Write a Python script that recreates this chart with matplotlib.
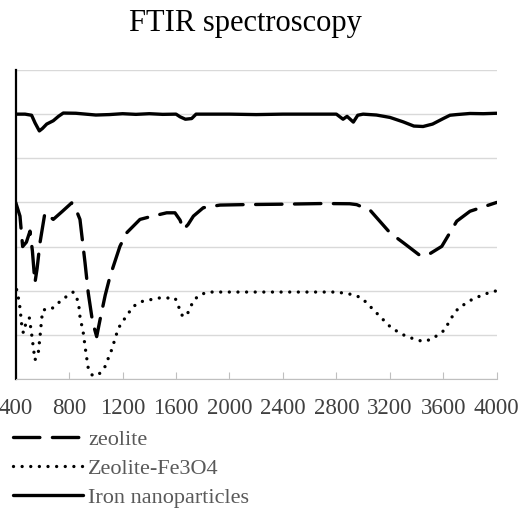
import matplotlib
matplotlib.use("Agg")
import matplotlib.pyplot as plt

plt.rcParams['lines.scale_dashes'] = False

title = "FTIR spectroscopy"
series_names = ["zeolite", "Zeolite-Fe3O4", "Iron nanoparticles"]
x_ticks = [400, 800, 1200, 1600, 2000, 2400, 2800, 3200, 3600, 4000]

zeolite_x = [400, 432, 452, 480, 507, 525, 544, 560, 582, 619, 681, 750, 819, 850, 881,
             919, 943, 975, 1006, 1031, 1070, 1106, 1180, 1230, 1330, 1405, 1530, 1592,
             1630, 1655, 1690, 1730, 1804, 1929, 2100, 2400, 2700, 2900, 2952, 3052,
             3202, 3302, 3427, 3490, 3589, 3701, 3800, 4000]
zeolite_y = [80, 73.8, 60, 62, 67, 58, 43.6, 50, 61.8, 75.4, 72.3, 76, 79.8, 77, 72.3,
             52.6, 39, 26, 19.2, 26.8, 38, 46.5, 60.1, 66.2, 72.3, 73.5, 75.3, 75.3,
             72, 67.7, 70, 73.8, 77.6, 78.8, 79, 79.2, 79.5, 79.4, 79, 76.5,
             66.2, 61.7, 55.9, 56.4, 60.1, 71.5, 76, 80]

fe3o4_x = [407, 420, 432, 445, 457, 477, 502, 520, 544, 569, 582, 595, 607, 657, 694,
           744, 831, 869, 881, 906, 926, 943, 976, 1031, 1068, 1118, 1168, 1218, 1280,
           1343, 1468, 1593, 1617, 1642, 1675, 1705, 1730, 1780, 1842, 2100, 2500,
           2803, 2927, 2990, 3077, 3127, 3214, 3326, 3446, 3514, 3613, 3650, 3713,
           3825, 3937, 4000]
fe3o4_y = [40.5, 36.8, 32.3, 24.5, 20.9, 25.4, 27.7, 20, 8.6, 11.8, 19.2, 27.7, 31.4,
           31.4, 32.9, 35.9, 39.4, 35.1, 28.3, 20.8, 11.7, 4.9, 1.4, 2.6, 5.6, 13.2,
           23, 27.6, 32.9, 35.1, 36.7, 36.7, 33.2, 29, 28.3, 32, 35.6, 38.2, 39.4,
           39.4, 39.4, 39.4, 38.2, 36.7, 31.4, 28.3, 23, 19.2, 17, 18, 22.3, 26.8,
           32.1, 36.4, 39, 40]

iron_x = [400, 470, 519, 545, 577, 600, 632, 681, 720, 756, 850, 1000, 1100, 1200,
          1300, 1400, 1500, 1600, 1630, 1670, 1717, 1750, 1850, 2000, 2200, 2400,
          2600, 2800, 2850, 2880, 2927, 2960, 3000, 3100, 3202, 3300, 3380, 3449,
          3520, 3600, 3650, 3700, 3800, 3900, 4000]
iron_y = [120, 120, 119.5, 116, 112.4, 113.5, 115.5, 117, 119, 120.5, 120.4, 119.6,
          119.8, 120.2, 119.9, 120.2, 119.9, 120, 118.8, 117.7, 118, 120, 120, 120,
          119.8, 120, 120, 120, 117.7, 119, 116.4, 119.5, 120, 119.6, 118.5, 116.5,
          114.6, 114.4, 115.5, 118, 119.5, 119.8, 120.3, 120.2, 120.4]

W, H = 528, 508
fig = plt.figure(figsize=(W / 100, H / 100), dpi=100)
left, right, top, bottom = 15.7, 496.7, 70, 379
ax = fig.add_axes([left / W, (H - bottom) / H, (right - left) / W, (bottom - top) / H])

lw = 2.4
l1, = ax.plot(zeolite_x, zeolite_y, color='black', lw=lw, linestyle=(0, (19, 9)),
              dash_capstyle='round', solid_capstyle='round', label=series_names[0])
l2, = ax.plot(fe3o4_x, fe3o4_y, color='black', lw=lw, linestyle=(0, (0.01, 6.2)),
              dash_capstyle='round', label=series_names[1])
l3, = ax.plot(iron_x, iron_y, color='black', lw=lw, solid_capstyle='round',
              label=series_names[2])

ax.set_xlim(400, 4000)
ax.set_ylim(0, 140)
ax.set_xticks(x_ticks)
ax.set_xticklabels([str(t) for t in x_ticks], fontfamily='Liberation Serif',
                   fontsize=16.5, color='#404040')
ax.set_yticks(range(0, 141, 20))
ax.set_yticklabels([])
ax.tick_params(axis='y', length=0)
ax.tick_params(axis='x', direction='in', length=5, color='#bfbfbf', pad=13.5)
ax.grid(axis='y', color='#d9d9d9', lw=1)
ax.set_axisbelow(True)
for s in ['top', 'right']:
    ax.spines[s].set_visible(False)
ax.spines['bottom'].set_color('#bfbfbf')
ax.spines['left'].set_color('black')
ax.spines['left'].set_linewidth(1.6)

fig.text(245 / W, 1 - 31 / H, title, ha='center', va='baseline',
         fontfamily='Liberation Serif', fontsize=22)

leg = fig.legend(handles=[l1, l2, l3], loc='upper left',
                 bbox_to_anchor=(13 / W, 1 - 429 / H), frameon=False,
                 prop={'family': 'Liberation Serif', 'size': 16},
                 handlelength=3.15, handletextpad=0.24, labelspacing=0.39,
                 borderaxespad=0, borderpad=0)
for t in leg.get_texts():
    t.set_color('#595959')

fig.savefig("out.png", dpi=100)
